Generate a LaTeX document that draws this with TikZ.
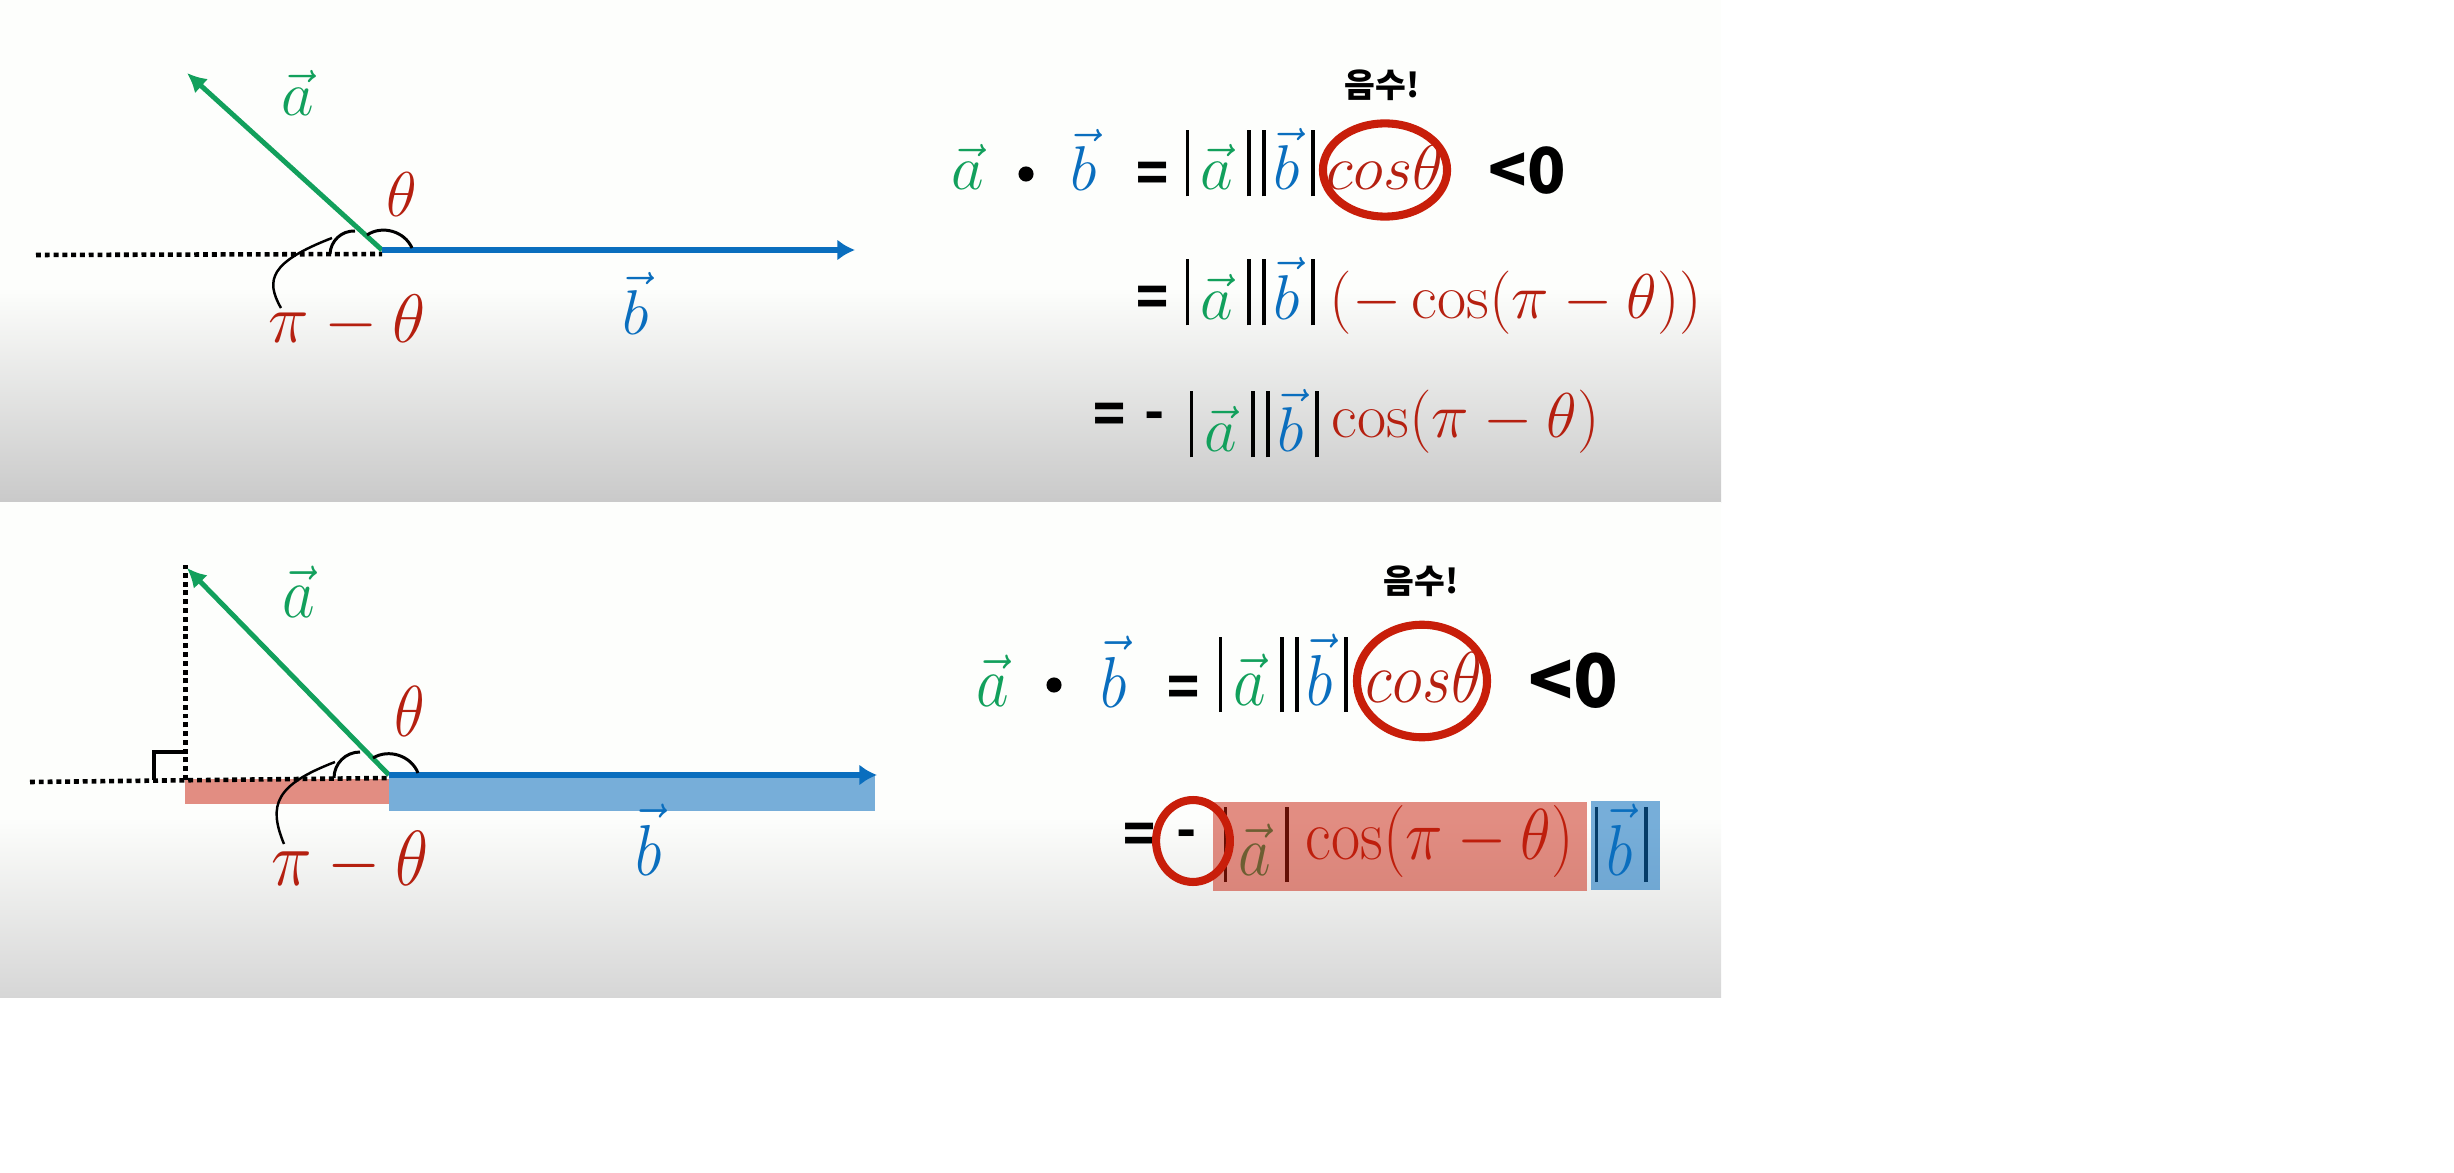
\RequirePackage{fix-cm}
\documentclass[tikz,border=0pt]{standalone}
\usepackage{amsmath}
\usepackage{fontspec}
\usetikzlibrary{arrows.meta, positioning, shapes.geometric}
\newfontfamily\korfont{Noto Sans CJK KR}

\definecolor{vecgreen}{HTML}{12A05C}
\definecolor{vecblue}{HTML}{0A6EBE}
\definecolor{angred}{HTML}{B52010}
\definecolor{ringred}{HTML}{C81E0A}
\definecolor{panelwhite}{HTML}{FDFEFC}

\newcommand{\vbar}{\rule[-.1em]{1pt}{1.04em}}
\newcommand{\absa}{\vbar\kern.18em{\color{vecgreen}$\vec{a}$}\kern.22em\vbar}
\newcommand{\absb}{\vbar\kern.13em{\color{vecblue}$\vec{b}$}\kern.18em\vbar}
\newcommand{\absab}{\absa\kern.18em\absb}
\newcommand{\tallbox}[1]{\scalebox{1}[1.14]{#1}}

\begin{document}
\begin{tikzpicture}[
    x=0.01cm, y=-0.01cm,
    mathlabel/.style={font=\fontsize{18}{20}\selectfont, inner sep=0pt, anchor=base},
    mathrow/.style={mathlabel, anchor=base west},
    pilabel/.style={mathlabel, angred, font=\fontsize{19.5}{21}\selectfont},
    boldsign/.style={font=\korfont\bfseries\fontsize{15}{17}\selectfont, inner sep=0pt},
    bigsign/.style={font=\korfont\bfseries\fontsize{18}{20}\selectfont, inner sep=0pt},
    negword/.style={font=\korfont\bfseries\fontsize{9.5}{11}\selectfont, inner sep=0pt},
    dotmark/.style={circle, fill=black, inner sep=0pt, minimum size=4.3pt},
    ring/.style={ellipse, draw=ringred, line width=2.3pt, inner sep=0pt},
    veca/.style={-{Latex[length=5.5pt,width=5.5pt]}, vecgreen, line width=1.4pt},
    vecb/.style={-{Latex[length=5pt,width=6pt]}, vecblue, line width=1.6pt},
    guide/.style={line width=1.3pt, dash pattern=on 1.4pt off 1.1pt},
    anglearc/.style={line width=.85pt},
    leader/.style={line width=.7pt},
    redband/.style={fill=ringred, opacity=.5},
    blueband/.style={fill=vecblue, opacity=.55}
]
\useasboundingbox (0,0) rectangle (2454,1173);

% Panel backgrounds
\fill [panelwhite] (0,0) rectangle (1721,287);
\fill [top color=panelwhite, bottom color=black!21] (0,287) rectangle (1721,502);
\fill [panelwhite] (0,502) rectangle (1721,817);
\fill [top color=panelwhite, bottom color=black!16] (0,817) rectangle (1721,997);

% Top panel, coordinates
\coordinate (originA) at (382,250);
\coordinate (tipA) at (187,73);
\coordinate (endA) at (855,250);
\coordinate (dotsA) at (36,255);
\coordinate (dotsendA) at (382,254);
\coordinate (thetaA1) at (367,235);
\coordinate (thetaA2) at (412,248);
\coordinate (piA1) at (355,231);
\coordinate (piA2) at (330,254);
\coordinate (leadA1) at (332,238);
\coordinate (leadA2) at (281,308);

% Top panel, vectors
\draw [guide] (dotsA) -- (dotsendA);
\draw [veca] (originA) -- (tipA);
\draw [vecb] (originA) -- (endA);

% Top panel, angle marks
\draw [anglearc] (thetaA1) to[bend left=50] (thetaA2);
\draw [anglearc] (piA1) to[bend right=45] (piA2);
\draw [leader] (leadA1) .. controls (270,262) and (265,280) .. (leadA2);

% Top panel, labels
\node (aA) [mathlabel, vecgreen] at (298,116) {$\vec{a}$};
\node (bA) [mathlabel, vecblue] at (636,334) {$\vec{b}$};
\node (thetaA) [mathlabel, angred] at (402,216) {$\theta$};
\node (piA) [pilabel] at (347,342) {$\pi-\theta$};

% Top panel, formula
\node (faA) [mathlabel, vecgreen] at (968,190) {$\vec{a}$};
\node (dotA) [dotmark] at (1026,174) {};
\node (fbA) [mathlabel, vecblue] at (1084,191) {$\vec{b}$};
\node (eqA) [boldsign] at (1153,177) {=};
\node (absA) [mathrow] at (1185,190) {\absab};
\node (cosA) [mathlabel, angred] at (1385,190) {$cos\theta$};
\node (ringA) [ring, minimum width=35.3pt, minimum height=26.5pt] at (1385,170) {};
\node (ltA) [bigsign, anchor=west] at (1488,171) {<0};
\node (negA) [negword] at (1382,85) {음수!};
\node (eqB) [boldsign] at (1153,301) {=};
\node (absB) [mathrow] at (1185,319) {\absab};
\node (cosB) [mathrow, angred] at (1329,318) {$(-\cos(\pi-\theta))$};
\node (eqC) [boldsign] at (1110,418) {=};
\node (minusC) [boldsign] at (1155,421) {-};
\node (absC) [mathrow] at (1189,451) {\absab};
\node (cosC) [mathrow, angred] at (1331,437) {$\cos(\pi-\theta)$};

% Bottom panel, coordinates
\coordinate (originD) at (389,775);
\coordinate (tipD) at (187,568);
\coordinate (endD) at (877,775);
\coordinate (dotsD) at (30,782);
\coordinate (dotsendD) at (389,778);
\coordinate (footD) at (185.5,780);
\coordinate (topD) at (185.5,565);
\coordinate (sqD1) at (154,780);
\coordinate (sqD2) at (185.5,752);
\coordinate (thetaD1) at (373,758);
\coordinate (thetaD2) at (418,773);
\coordinate (piD1) at (360,752);
\coordinate (piD2) at (334,778);
\coordinate (leadD1) at (335,762);
\coordinate (leadD2) at (284,844);

% Bottom panel, projection bands
\fill [redband] (185,779) rectangle (389,804);
\fill [blueband] (389,775) rectangle (875,811);

% Bottom panel, vectors
\draw [guide] (dotsD) -- (dotsendD);
\draw [guide] (footD) -- (topD);
\draw [line width=1pt] (sqD1) |- (sqD2);
\draw [veca] (originD) -- (tipD);
\draw [vecb] (originD) -- (endD);

% Bottom panel, angle marks
\draw [anglearc] (thetaD1) to[bend left=50] (thetaD2);
\draw [anglearc] (piD1) to[bend right=45] (piD2);
\draw [leader] (leadD1) .. controls (275,785) and (268,805) .. (leadD2);

% Bottom panel, labels
\node (aD) [mathlabel, vecgreen] at (299,617) {\tallbox{$\vec{a}$}};
\node (bD) [mathlabel, vecblue] at (649,875) {\tallbox{$\vec{b}$}};
\node (thetaD) [mathlabel, angred] at (410,736) {\tallbox{$\theta$}};
\node (piD) [pilabel] at (350,885) {\tallbox{$\pi-\theta$}};

% Bottom panel, formula
\node (faD) [mathlabel, vecgreen] at (993,706) {\tallbox{$\vec{a}$}};
\node (dotD) [dotmark] at (1054,685) {};
\node (fbD) [mathlabel, vecblue] at (1114,707) {\tallbox{$\vec{b}$}};
\node (eqD) [boldsign] at (1184,691) {=};
\node (absD) [mathrow] at (1218,705) {\tallbox{\absab}};
\node (cosD) [mathlabel, angred] at (1424,702) {\tallbox{$cos\theta$}};
\node (ringD) [ring, minimum width=37pt, minimum height=32pt] at (1422,681) {};
\node (ltD) [bigsign, anchor=west, font=\korfont\bfseries\fontsize{21}{23}\selectfont] at (1528,681) {<0};
\node (negD) [negword] at (1421,581) {음수!};
\node (eqE) [boldsign] at (1140,838) {=};
\node (minusE) [boldsign] at (1187,839) {-};
\node (absaE) [mathrow] at (1223,875) {\tallbox{\absa}};
\node (cosE) [mathrow, angred] at (1305,859) {\tallbox{$\cos(\pi-\theta)$}};
\node (absbE) [mathrow] at (1594,875) {\tallbox{\absb}};
\fill [redband] (1213,802) rectangle (1587,891);
\fill [blueband] (1591,801) rectangle (1660,890);
\node (ringE) [ring, minimum width=21pt, minimum height=23.3pt] at (1193,841) {};

\end{tikzpicture}
\end{document}
